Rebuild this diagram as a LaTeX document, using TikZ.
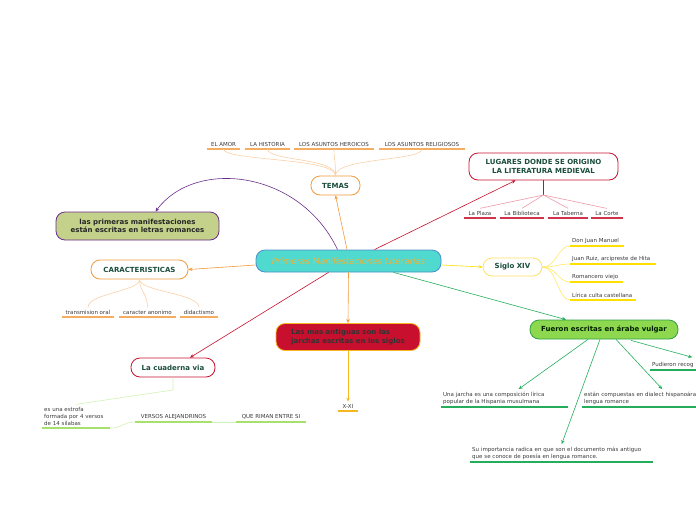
\documentclass[tikz,border=0pt]{standalone}
\usepackage{fontspec}
\setmainfont{DejaVu Sans}
\usetikzlibrary{arrows.meta,calc}
\definecolor{turq}{HTML}{4FD9CF}
\definecolor{blueb}{HTML}{4A8FCB}
\definecolor{ctxt}{HTML}{F0B43C}
\definecolor{dtxt}{HTML}{1A4D3C}
\definecolor{ltxt}{HTML}{3A3A3A}
\definecolor{orng}{HTML}{F29A3A}
\definecolor{peach}{HTML}{FAD0A8}
\definecolor{crim}{HTML}{C8102E}
\definecolor{pinkl}{HTML}{EE98A8}
\definecolor{ylw}{HTML}{FFE000}
\definecolor{ylwl}{HTML}{FFE868}
\definecolor{gold}{HTML}{F5B820}
\definecolor{olive}{HTML}{C3D18B}
\definecolor{purp}{HTML}{6A2E8A}
\definecolor{lgrn}{HTML}{A8E070}
\definecolor{lgrnl}{HTML}{D2F2B4}
\definecolor{grn}{HTML}{24AE5C}
\definecolor{fgrn}{HTML}{8DD84E}
\definecolor{bgrn}{HTML}{2EA043}
\tikzset{
  box/.style={rounded corners=9pt, line width=0.8pt, font=\fontsize{7}{8.6}\selectfont\bfseries, text=dtxt, align=center, inner sep=1pt},
  leaf/.style={font=\fontsize{5.5}{7}\selectfont, text=ltxt, inner xsep=2pt, inner ysep=2.5pt, anchor=south},
  lleaf/.style={leaf, anchor=south west, align=left, text width=#1},
  arr/.style={line width=0.6pt, -{Stealth[length=4pt,width=3.5pt]}},
  ul/.style={line width=1.2pt},
  thin/.style={line width=0.6pt},
}
\begin{document}
\begin{tikzpicture}[x=1pt,y=-1pt]
\useasboundingbox (0,0) rectangle (696,520);
\clip (0,0) rectangle (696,520);

% central
\node[box, fill=turq, draw=blueb, minimum width=185pt, minimum height=22pt, font=\fontsize{8.6}{10}\selectfont\itshape, text=ctxt] (c) at (348.5,261) {Primeras Manifestaciones Literarias};

% TEMAS
\node[box, fill=white, draw=orng, minimum width=49pt, minimum height=19pt] (temas) at (335.5,185.5) {TEMAS};
\node[leaf, minimum width=33pt] (amor) at (223.5,149) {EL AMOR};
\node[leaf, minimum width=45pt] (hist) at (267.5,149) {LA HISTORIA};
\node[leaf, minimum width=80pt] (hero) at (334,149) {LOS ASUNTOS HEROICOS};
\node[leaf, minimum width=86pt] (reli) at (422,149) {LOS ASUNTOS RELIGIOSOS};
\foreach \n in {amor,hist,hero,reli}{
  \draw[ul, orng!80] (\n.south west) -- (\n.south east);
  \draw[thin, peach] (temas.north) .. controls +(0,-18) and +(0,12) .. (\n.south);
}

% LUGARES
\node[box, fill=white, draw=crim, minimum width=149pt, minimum height=27pt] (lug) at (543.5,166.5) {LUGARES DONDE SE ORIGINO\\LA LITERATURA MEDIEVAL};
\coordinate (lj) at (543.5,195);
\node[leaf, minimum width=32pt] (plaza) at (480,218) {La Plaza};
\node[leaf, minimum width=44pt] (bibl) at (522,218) {La Biblioteca};
\node[leaf, minimum width=40pt] (tab) at (568,218) {La Taberna};
\node[leaf, minimum width=32pt] (corte) at (607,218) {La Corte};
\draw[line width=0.8pt, crim] (lug.south) -- (lj);
\foreach \n in {plaza,bibl,tab,corte}{
  \draw[ul, crim!85] (\n.south west) -- (\n.south east);
  \draw[thin, pinkl] (lj) -- (\n.north);
}

% primeras manifestaciones
\node[box, fill=olive, draw=purp, minimum width=163pt, minimum height=28pt, text=black!85] (prim) at (137.5,226) {las primeras manifestaciones\\están escritas en letras romances};

% CARACTERISTICAS
\node[box, fill=white, draw=orng, minimum width=97pt, minimum height=19pt] (car) at (139.5,269.5) {CARACTERISTICAS};
\node[leaf, minimum width=52pt] (oral) at (88,317) {transmision oral};
\node[leaf, minimum width=57pt] (anon) at (147.5,317) {caracter anonimo};
\node[leaf, minimum width=38pt] (dida) at (199,317) {didactismo};
\foreach \n in {oral,anon,dida}{
  \draw[ul, orng!80] (\n.south west) -- (\n.south east);
  \draw[thin, peach] (car.south) .. controls +(0,12) and +(0,-14) .. (\n.north);
}

% Siglo XIV
\node[box, fill=white, draw=ylw!80!orange!60, minimum width=59pt, minimum height=18pt] (sig) at (512.5,267) {Siglo XIV};
\node[lleaf=50pt] (don) at (570,246) {Don Juan Manuel};
\node[lleaf=82pt] (ruiz) at (570,264) {Juan Ruiz, arcipreste de Hita};
\node[lleaf=49pt] (roma) at (570,282) {Romancero viejo};
\node[lleaf=62pt] (liri) at (570,300) {Lírica culta castellana};
\foreach \n in {don,ruiz,roma,liri}{
  \draw[ul, ylw] (\n.south west) -- (\n.south east);
  \draw[thin, ylwl] (sig.east) .. controls +(14,0) and +(-12,0) .. (\n.south west);
}

% Las mas antiguas
\node[box, fill=crim, draw=gold, minimum width=144pt, minimum height=27pt, align=left, text=black!80] (ant) at (348,337) {Las mas antiguas son las\\jarchas escritas en los siglos};
\node[leaf, minimum width=20pt] (xxi) at (348,411) {X-XI};
\draw[ul, gold] (xxi.south west) -- (xxi.south east);

% La cuaderna via
\node[box, fill=white, draw=crim, minimum width=84pt, minimum height=19pt] (cuad) at (173,367.5) {La cuaderna via};
\coordinate (cj) at (173,390);
\node[lleaf=64pt] (estr) at (42,428) {es una estrofa\\formada por 4 versos\\de 14 silabas};
\node[leaf, minimum width=77pt] (vers) at (173.5,422) {VERSOS ALEJANDRINOS};
\node[leaf, minimum width=70pt] (rim) at (271,422) {QUE RIMAN ENTRE SI};
\foreach \n in {estr,vers,rim}{
  \draw[ul, lgrn] (\n.south west) -- (\n.south east);
}
\draw[thin, lgrnl] (cuad.south) -- (cj) -- (estr.north);
\draw[thin, lgrnl] (estr.south east) .. controls +(12,0) and +(-12,0) .. (vers.south west);
\draw[thin, lgrnl] (vers.south east) -- (rim.south west);

% Fueron escritas
\node[box, fill=fgrn, draw=bgrn, minimum width=148pt, minimum height=19pt, text=black!80!green!60!black] (fue) at (604,329.5) {Fueron escritas en árabe vulgar};
\node[lleaf=44pt] (pud) at (650,370) {Pudieron recog};
\node[lleaf=123pt] (jar) at (441,407) {Una jarcha es una composición lírica\\popular de la Hispania musulmana};
\node[lleaf=110pt] (est) at (582,407) {\mbox{están compuestas en dialect hispanoára}\\lengua romance};
\node[lleaf=179pt] (imp) at (470,462) {Su importancia radica en que son el documento más antiguo\\que se conoce de poesía en lengua romance.};
\foreach \n in {pud,jar,est,imp}{
  \draw[ul, grn] (\n.south west) -- (\n.south east);
}
\draw[arr, grn] ($(fue.south)+(-16,0)$) -- ($(jar.north)+(14,0)$);
\draw[arr, grn] ($(fue.south)+(-4,0)$) -- (imp.north);
\draw[arr, grn] ($(fue.south)+(12,0)$) -- ($(est.north)+(23,0)$);
\draw[arr, grn] ($(fue.south)+(27,1)$) -- ($(pud.north)+(18,-2)$);

% arrows from central
\draw[arr, orng] ($(c.north)+(-1.5,0)$) -- (temas.south);
\draw[arr, crim] ($(c.north)+(26,0)$) -- ($(lug.south)+(-28,0)$);
\draw[arr, purp] ($(c.north)+(-11,0)$) .. controls (300,170) and (195,158) .. ($(prim.north)+(18,0)$);
\draw[arr, orng] ($(c.west)+(0,4)$) -- (car.east);
\draw[arr, ylw] ($(c.east)+(0,4)$) -- (sig.west);
\draw[arr, orng] (c.south) -- (ant.north);
\draw[arr, gold] (ant.south) -- (xxi.north);
\draw[arr, crim] ($(c.south)+(-20,0)$) -- ($(cuad.north)+(17,0)$);
\draw[arr, grn] ($(c.south)+(45,0)$) -- ($(fue.north)+(-38,0)$);
\end{tikzpicture}
\end{document}
